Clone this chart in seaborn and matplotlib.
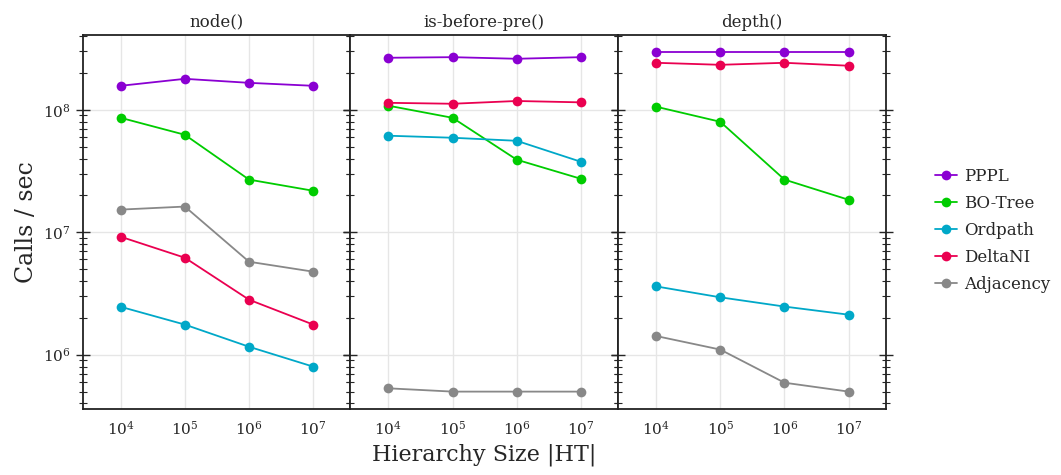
import pandas as pd
import matplotlib
matplotlib.use('Agg')
import matplotlib.pyplot as plt
import seaborn as sns
from matplotlib.ticker import LogLocator, NullFormatter

# Hierarchy sizes on the x axis
sizes = [1e4, 1e5, 1e6, 1e7]
methods = ['PPPL', 'BO-Tree', 'Ordpath', 'DeltaNI', 'Adjacency']
panels = ['node()', 'is-before-pre()', 'depth()']

# Calls / sec
node_vals = {
    'PPPL':      [1.57e8, 1.79e8, 1.66e8, 1.57e8],
    'BO-Tree':   [8.6e7, 6.25e7, 2.69e7, 2.18e7],
    'Ordpath':   [2.46e6, 1.76e6, 1.16e6, 7.98e5],
    'DeltaNI':   [9.19e6, 6.19e6, 2.81e6, 1.76e6],
    'Adjacency': [1.53e7, 1.62e7, 5.74e6, 4.76e6],
}
isbefore_vals = {
    'PPPL':      [2.66e8, 2.69e8, 2.61e8, 2.69e8],
    'BO-Tree':   [1.08e8, 8.6e7, 3.91e7, 2.73e7],
    'Ordpath':   [6.14e7, 5.91e7, 5.58e7, 3.76e7],
    'DeltaNI':   [1.14e8, 1.12e8, 1.18e8, 1.15e8],
    'Adjacency': [5.31e5, 4.99e5, 4.99e5, 4.99e5],
}
depth_vals = {
    'PPPL':      [2.97e8, 2.97e8, 2.97e8, 2.97e8],
    'BO-Tree':   [1.06e8, 7.98e7, 2.69e7, 1.84e7],
    'Ordpath':   [3.61e6, 2.94e6, 2.47e6, 2.12e6],
    'DeltaNI':   [2.42e8, 2.33e8, 2.42e8, 2.29e8],
    'Adjacency': [1.42e6, 1.10e6, 5.9e5, 4.99e5],
}

colors = {'PPPL': '#8a00d2', 'BO-Tree': '#00cc00', 'Ordpath': '#00a8c8',
          'DeltaNI': '#ea0050', 'Adjacency': '#888888'}

# long-form table
rows = []
for panel, vals in zip(panels, [node_vals, isbefore_vals, depth_vals]):
    for m in methods:
        for s, v in zip(sizes, vals[m]):
            rows.append({'panel': panel, 'method': m, 'size': s, 'calls': v})
df = pd.DataFrame(rows)

sns.set_style('white')
plt.rcParams['font.family'] = ['DejaVu Serif']
plt.rcParams['mathtext.fontset'] = 'dejavuserif'

fig, axes = plt.subplots(1, 3, figsize=(10.61, 4.75), dpi=100, sharey=True)
fig.subplots_adjust(left=0.078, right=0.835, top=0.926, bottom=0.139, wspace=0)

for ax, panel in zip(axes, panels):
    sub = df[df['panel'] == panel]
    sns.lineplot(data=sub, x='size', y='calls', hue='method', hue_order=methods,
                 palette=colors, marker='o', markersize=7, markeredgewidth=0,
                 linewidth=1.3, ax=ax, legend=(panel == panels[0]))
    ax.set_xscale('log')
    ax.set_yscale('log')
    ax.set_xlim(10 ** 3.41, 10 ** 7.58)
    ax.set_ylim(3.6e5, 4.07e8)
    ax.set_title(panel, fontsize=12)
    ax.set_xlabel('')
    ax.set_ylabel('')
    ax.set_xticks(sizes)
    ax.xaxis.set_minor_locator(LogLocator(base=10, subs=[]))
    ax.yaxis.set_minor_locator(LogLocator(base=10, subs=range(2, 10)))
    ax.yaxis.set_minor_formatter(NullFormatter())
    ax.grid(True, which='major', color='#e6e6e6', linewidth=1)
    ax.tick_params(axis='x', which='both', length=0, labelsize=11, pad=8)
    ax.tick_params(axis='y', which='major', direction='inout', length=10, width=1,
                   left=True, right=True, labelsize=11)
    ax.tick_params(axis='y', which='minor', direction='inout', length=6, width=0.8,
                   left=True, right=True)
    for sp in ax.spines.values():
        sp.set_visible(True)
        sp.set_color('#222222')
        sp.set_linewidth(1.3)
    ax.set_axisbelow(True)

handles, labels = axes[0].get_legend_handles_labels()
axes[0].get_legend().remove()
fig.legend(handles, labels, loc='center left', bbox_to_anchor=(0.867, 0.515),
           frameon=False, fontsize=12, handlelength=1.3, handletextpad=0.45,
           labelspacing=0.6)

axes[0].set_ylabel('Calls / sec', fontsize=17)
axes[1].set_xlabel('Hierarchy Size |HT|', fontsize=16)

plt.savefig('out.png', dpi=100)
